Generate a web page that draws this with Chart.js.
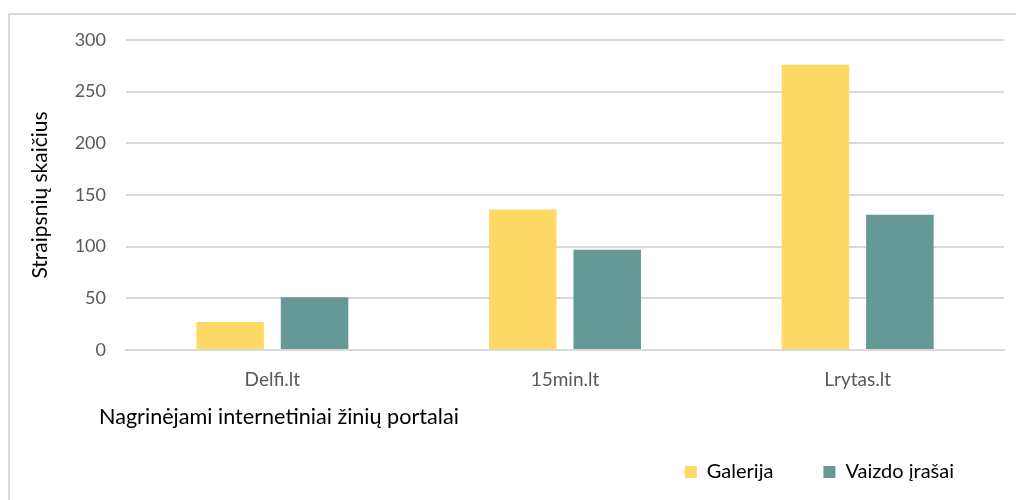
<!DOCTYPE html>
<html>
<head>
<meta charset="utf-8">
<script src="https://cdn.jsdelivr.net/npm/chart.js@4"></script>
<style>
  html, body { margin: 0; padding: 0; background: #fff; }
  #wrap { position: relative; width: 1016px; height: 500px; overflow: hidden; }
  #frame { position: absolute; left: 8px; top: 13px; width: 1100px; height: 600px; border: 2px solid #d9d9d9; box-sizing: border-box; }
  #chart { position: absolute; left: 0; top: 0; }
</style>
</head>
<body>
<div id="wrap">
  <div id="frame"></div>
  <canvas id="chart" width="1016" height="500"></canvas>
</div>
<script>
const portalai = ['Delfi.lt', '15min.lt', 'Lrytas.lt'];
const galerija = [27, 136, 276];
const vaizdoIrasai = [51, 97, 131];
const yTicks = [0, 50, 100, 150, 200, 250, 300];

const FONT = "Lato, 'Open Sans', sans-serif";

// antraste po x asimi, kaireje
const xTitlePlugin = {
    id: 'xTitle',
    afterDraw(chart) {
        const ctx = chart.ctx;
        ctx.save();
        ctx.font = '21.6px ' + FONT;
        ctx.fillStyle = '#000';
        ctx.textBaseline = 'middle';
        ctx.textAlign = 'left';
        ctx.fillText('Nagrinėjami internetiniai žinių portalai', 99, 417);
        ctx.restore();
    }
};

new Chart(document.getElementById('chart'), {
    type: 'bar',
    data: {
        labels: portalai,
        datasets: [
            { label: 'Galerija', data: galerija, backgroundColor: '#FFD966', borderWidth: 0 },
            { label: 'Vaizdo įrašai', data: vaizdoIrasai, backgroundColor: '#669995', borderWidth: 0 }
        ]
    },
    options: {
        responsive: false,
        animation: false,
        layout: { padding: { left: 28, right: 12, top: 40, bottom: 8 } },
        datasets: { bar: { barPercentage: 0.8, categoryPercentage: 0.577 } },
        plugins: {
            legend: {
                position: 'bottom',
                align: 'end',
                labels: {
                    boxWidth: 12, boxHeight: 12, padding: 50,
                    color: '#000', font: { family: FONT, size: 20 }
                }
            },
            tooltip: { enabled: false }
        },
        scales: {
            x: {
                grid: { display: false },
                border: { color: '#d9d9d9', width: 2 },
                ticks: { color: '#595959', font: { family: FONT, size: 19 }, padding: 10 },
                afterFit(s) { s.height = 62; }
            },
            y: {
                min: 0, max: 300,
                afterBuildTicks(s) { s.ticks = yTicks.map(v => ({ value: v })); },
                grid: { color: '#d9d9d9', lineWidth: 2, drawTicks: false },
                border: { display: false },
                ticks: { color: '#595959', font: { family: FONT, size: 18 }, padding: 20 },
                title: { display: true, text: 'Straipsnių skaičius', color: '#000', font: { family: FONT, size: 21 }, padding: 0 },
                afterFit(s) { s.width = 98; }
            }
        }
    },
    plugins: [xTitlePlugin]
});
</script>
</body>
</html>
